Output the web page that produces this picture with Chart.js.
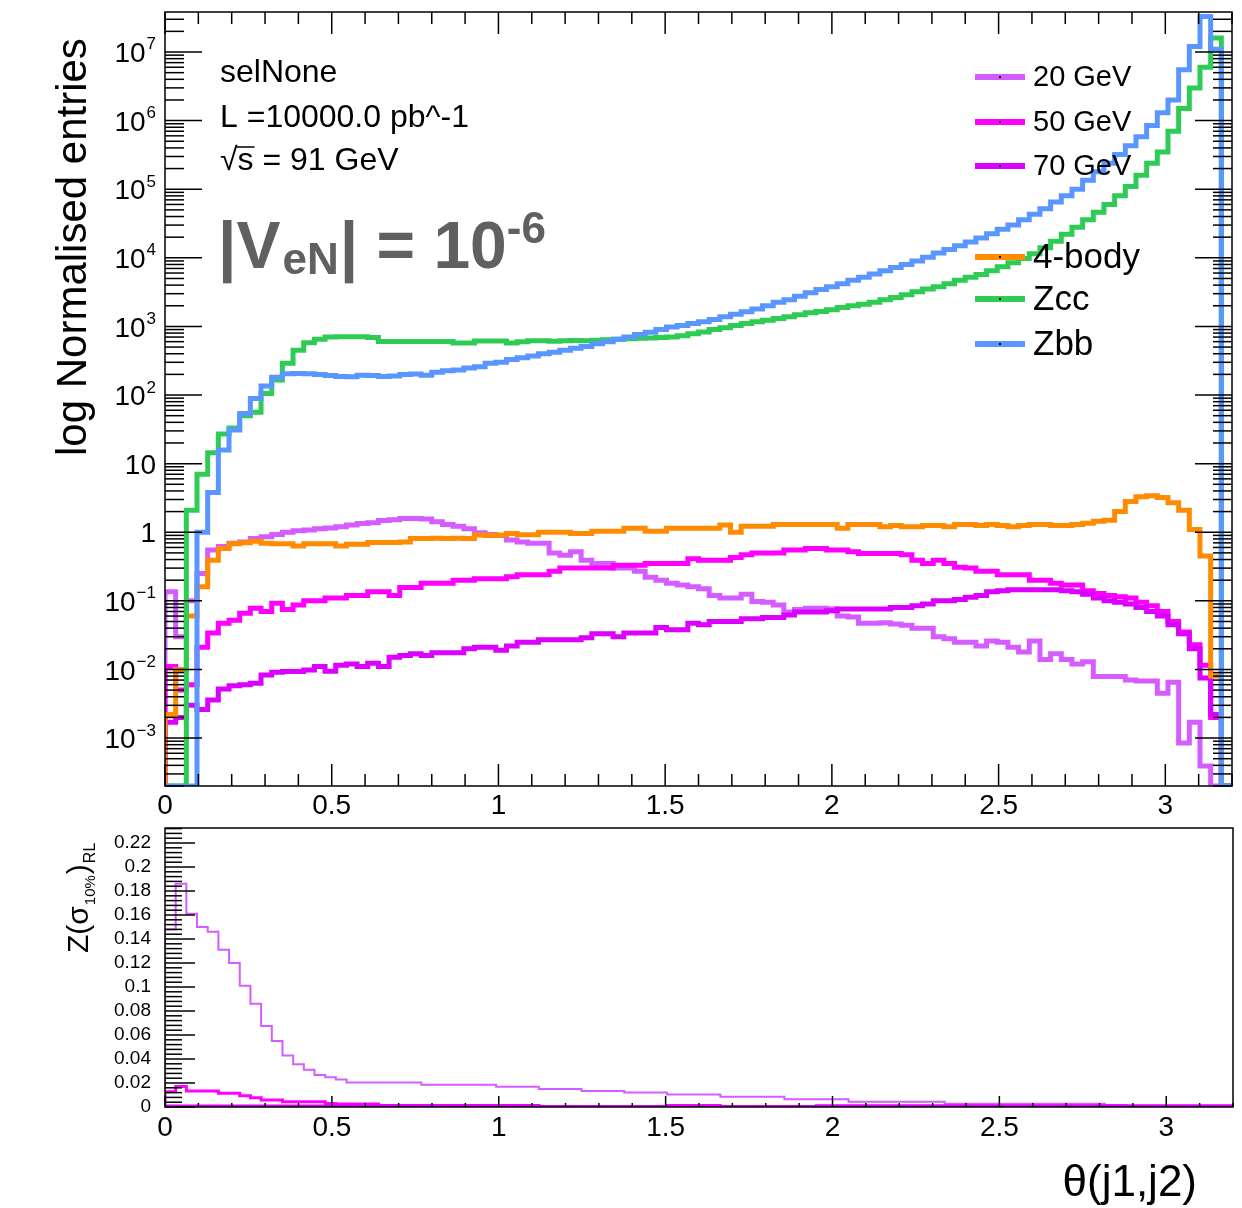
<!DOCTYPE html>
<html>
<head>
<meta charset="utf-8">
<script src="https://cdn.jsdelivr.net/npm/chart.js@4.4.1/dist/chart.umd.min.js"></script>
<style>
  html, body { margin: 0; padding: 0; background: #fff; }
  #wrap { position: relative; width: 1242px; height: 1208px; }
  canvas { position: absolute; left: 0; }
  #top { top: 0; }
  #bottom { top: 820px; }
</style>
</head>
<body>
<div id="wrap">
  <canvas id="top" width="1242" height="820"></canvas>
  <canvas id="bottom" width="1242" height="388"></canvas>
</div>
<script>
// 100 bins of theta(j1,j2) between 0 and 3.2
const N_BINS = 100;
const X_MAX = 3.2;
const BIN_W = X_MAX / N_BINS;
const X_TICK_LABELS = ['0', '0.5', '1', '1.5', '2', '2.5', '3'];

// top panel, normalised entries per bin
const sig20 = [
  0.136, 0.03, 0.1, 0.25, 0.55, 0.62, 0.69, 0.72, 0.81, 0.86,
  0.93, 1.0, 1.05, 1.08, 1.12, 1.15, 1.2, 1.28, 1.34, 1.38,
  1.48, 1.52, 1.58, 1.58, 1.56, 1.42, 1.3, 1.22, 1.12, 0.98,
  0.93, 0.9, 0.77, 0.72, 0.69, 0.69, 0.5, 0.46, 0.52, 0.39,
  0.35, 0.35, 0.3, 0.3, 0.27, 0.22, 0.2, 0.18, 0.17, 0.16,
  0.15, 0.12, 0.11, 0.11, 0.125, 0.098, 0.095, 0.087, 0.069, 0.075,
  0.078, 0.078, 0.076, 0.06, 0.058, 0.047, 0.047, 0.048, 0.046, 0.044,
  0.04, 0.04, 0.03, 0.028, 0.025, 0.025, 0.022, 0.026, 0.025, 0.021,
  0.018, 0.026, 0.014, 0.017, 0.014, 0.012, 0.013, 0.0079, 0.0079, 0.0079,
  0.007, 0.0068, 0.0068, 0.0045, 0.0065, 0.00085, 0.0017, 0.00039, 0, 0
];
const sig50 = [
  0.011, 0.005, 0.006, 0.021, 0.034, 0.047, 0.052, 0.066, 0.078, 0.07,
  0.092, 0.075, 0.087, 0.1, 0.1, 0.11, 0.11, 0.12, 0.12, 0.136,
  0.136, 0.12, 0.157, 0.157, 0.18, 0.18, 0.18, 0.2, 0.2, 0.21,
  0.21, 0.21, 0.225, 0.24, 0.24, 0.24, 0.27, 0.3, 0.3, 0.3,
  0.3, 0.3, 0.33, 0.33, 0.33, 0.35, 0.35, 0.35, 0.35, 0.41,
  0.39, 0.39, 0.39, 0.43, 0.47, 0.5, 0.5, 0.5, 0.55, 0.55,
  0.58, 0.58, 0.55, 0.55, 0.52, 0.49, 0.49, 0.49, 0.49, 0.47,
  0.39, 0.35, 0.39, 0.35, 0.31, 0.3, 0.27, 0.27, 0.24, 0.24,
  0.24, 0.2, 0.2, 0.18, 0.17, 0.17, 0.14, 0.128, 0.12, 0.115,
  0.11, 0.095, 0.085, 0.07, 0.05, 0.035, 0.023, 0.0115, 0.002, 0
];
const sig70 = [
  0.0017, 0.002, 0.003, 0.0026, 0.0036, 0.0052, 0.0058, 0.006, 0.0063, 0.0083,
  0.0091, 0.0093, 0.0093, 0.0098, 0.011, 0.0094, 0.0115, 0.012, 0.011, 0.0123,
  0.011, 0.015, 0.016, 0.017, 0.016, 0.0175, 0.0175, 0.0175, 0.02, 0.021,
  0.021, 0.019, 0.022, 0.025, 0.025, 0.027, 0.027, 0.027, 0.027, 0.029,
  0.033, 0.033, 0.03, 0.034, 0.034, 0.034, 0.041, 0.038, 0.038, 0.047,
  0.045, 0.05, 0.05, 0.05, 0.055, 0.055, 0.057, 0.057, 0.062, 0.069,
  0.069, 0.069, 0.072, 0.076, 0.076, 0.076, 0.076, 0.076, 0.08, 0.08,
  0.085, 0.09, 0.1, 0.1, 0.105, 0.113, 0.12, 0.136, 0.14, 0.145,
  0.145, 0.145, 0.145, 0.145, 0.14, 0.136, 0.125, 0.11, 0.1, 0.095,
  0.09, 0.08, 0.07, 0.06, 0.045, 0.033, 0.02, 0.0075, 0.0022, 0
];
const bkg4body = [
  0.0022, 0.01, 0.06, 0.16, 0.39, 0.58, 0.68, 0.7, 0.74, 0.69,
  0.68, 0.68, 0.63, 0.68, 0.68, 0.68, 0.63, 0.67, 0.67, 0.71,
  0.71, 0.71, 0.72, 0.81, 0.81, 0.82, 0.81, 0.82, 0.81, 0.91,
  0.9, 0.91, 0.96, 0.92, 0.92, 1.0, 1.0, 1.0, 0.96, 0.96,
  1.03, 1.03, 1.03, 1.14, 1.14, 1.03, 1.03, 1.14, 1.14, 1.14,
  1.14, 1.14, 1.27, 1.0, 1.22, 1.22, 1.22, 1.3, 1.3, 1.3,
  1.3, 1.3, 1.3, 1.14, 1.3, 1.3, 1.3, 1.2, 1.25, 1.2,
  1.2, 1.25, 1.25, 1.2, 1.3, 1.3, 1.25, 1.3, 1.25, 1.2,
  1.25, 1.3, 1.3, 1.25, 1.25, 1.3, 1.35, 1.45, 1.5, 2.0,
  2.8, 3.3, 3.4, 3.2, 2.7, 2.1, 1.1, 0.45, 0.008, 0
];
const bkgZcc = [
  0, 0, 2.1, 7.0, 14.4, 27, 33, 50, 56, 105,
  165, 290, 450, 580, 650, 700, 710, 710, 710, 690,
  605, 605, 605, 605, 605, 605, 605, 575, 575, 615,
  615, 615, 575, 600, 620, 620, 610, 620, 625, 620,
  630, 640, 650, 660, 670, 680, 690, 700, 730, 780,
  830, 900, 960, 1030, 1100, 1170, 1230, 1300, 1380, 1480,
  1580, 1650, 1750, 1880, 2000, 2100, 2250, 2450, 2650, 2900,
  3200, 3500, 3800, 4200, 4700, 5200, 5700, 6500, 7400, 8500,
  9800, 11500, 14000, 17500, 22000, 28000, 36000, 46000, 60000, 80000,
  110000, 160000, 240000, 350000, 700000, 1500000, 3000000, 6000000, 16000000, 0
];
const bkgZbb = [
  0, 0, 0, 1.0, 3.8, 15.8, 31, 54, 89, 135,
  181, 204, 206, 204, 200, 192, 186, 185, 195, 192,
  186, 190, 200, 202, 195, 215, 225, 232, 248, 258,
  290, 300, 330, 350, 370, 400, 420, 450, 480, 510,
  560, 600, 650, 700, 760, 820, 900, 980, 1030, 1100,
  1170, 1260, 1380, 1500, 1640, 1800, 2000, 2250, 2450, 2750,
  3100, 3450, 3800, 4200, 4700, 5200, 5800, 6500, 7200, 8000,
  9000, 10200, 11800, 13200, 15000, 17000, 19500, 22500, 26000, 30000,
  36000, 43000, 52000, 65000, 80000, 100000, 135000, 180000, 240000, 320000,
  430000, 580000, 850000, 1300000, 2000000, 5500000, 12000000, 33000000, 11000000, 0
];

// bottom panel, Z(sigma_10%)_RL per bin
const z20 = [
  0.148, 0.186, 0.161, 0.150, 0.146, 0.131, 0.120, 0.101, 0.086, 0.0675,
  0.055, 0.043, 0.0356, 0.031, 0.0267, 0.0247, 0.023, 0.0205, 0.0205, 0.0205,
  0.0205, 0.0205, 0.0205, 0.0205, 0.0185, 0.0185, 0.0185, 0.0185, 0.0185, 0.0185,
  0.0185, 0.0168, 0.0168, 0.0168, 0.0168, 0.015, 0.015, 0.015, 0.015, 0.0133,
  0.0133, 0.0133, 0.0133, 0.012, 0.012, 0.012, 0.012, 0.0105, 0.0105, 0.0105,
  0.0105, 0.0105, 0.0086, 0.0086, 0.0086, 0.0086, 0.0086, 0.0086, 0.0064, 0.0064,
  0.0064, 0.0064, 0.0064, 0.0064, 0.0044, 0.0044, 0.0044, 0.0044, 0.0044, 0.0044,
  0.0044, 0.0044, 0.0044, 0.0028, 0.0028, 0.0028, 0.0028, 0.0028, 0.0028, 0.0028,
  0.0028, 0.0028, 0.0028, 0.0028, 0.0028, 0.0028, 0.0028, 0.0028, 0.0017, 0.0017,
  0, 0, 0, 0, 0, 0, 0, 0, 0, 0
];
const z50 = [
  0.0128, 0.017, 0.0133, 0.0133, 0.0133, 0.0114, 0.0114, 0.0094, 0.0078, 0.0058,
  0.0058, 0.0044, 0.0044, 0.0044, 0.0044, 0.003, 0.0025, 0.0025, 0.0025, 0.0025,
  0.0012, 0.0012, 0.0012, 0.0012, 0.0012, 0.0012, 0.0012, 0.0012, 0.0012, 0.0012,
  0.0012, 0.0012, 0.0012, 0.0012, 0.0012, 0, 0, 0, 0, 0,
  0, 0, 0, 0, 0, 0, 0, 0.0012, 0.0012, 0.0012,
  0.0012, 0.0012, 0, 0, 0, 0, 0, 0, 0, 0,
  0, 0.0008, 0.0008, 0.0008, 0.0008, 0.0008, 0.0008, 0.0008, 0.0008, 0.0008,
  0.0008, 0.0008, 0.0008, 0.0008, 0.0008, 0.0008, 0.0008, 0.0008, 0.0008, 0.0008,
  0.0008, 0.0008, 0.0008, 0.0008, 0.0008, 0.0008, 0.0008, 0.0008, 0.0008, 0.0008,
  0.0008, 0.0008, 0.0008, 0.0008, 0.0008, 0.0008, 0.0008, 0.0008, 0.0008, 0.0008
];
const z70 = [
  0.0005, 0.0005, 0.0005, 0.0005, 0.0005, 0.0005, 0.0005, 0.0005, 0.0005, 0.0005,
  0.0005, 0.0005, 0.0005, 0.0005, 0.0005, 0.0005, 0.0005, 0.0005, 0.0005, 0.0005,
  0.0005, 0.0005, 0.0005, 0.0005, 0.0005, 0.0005, 0.0005, 0.0005, 0.0005, 0.0005,
  0.0005, 0.0005, 0.0005, 0.0005, 0.0005, 0, 0, 0, 0, 0,
  0, 0, 0, 0, 0, 0, 0, 0, 0, 0,
  0, 0, 0, 0, 0, 0, 0, 0, 0, 0,
  0, 0.0004, 0.0004, 0.0004, 0.0004, 0.0004, 0.0004, 0.0004, 0.0004, 0.0004,
  0.0004, 0.0004, 0.0004, 0.0004, 0.0004, 0.0004, 0.0004, 0.0004, 0.0004, 0.0004,
  0.0004, 0.0004, 0.0004, 0.0004, 0.0004, 0.0004, 0.0004, 0.0004, 0.0004, 0.0004,
  0.0004, 0.0004, 0.0004, 0.0004, 0.0004, 0.0004, 0.0004, 0.0004, 0.0004, 0.0004
];

const COL20 = '#d55cff', COL50 = '#ff00ff', COL70 = '#dc00ff';
const COL4B = '#ff8c00', COLZCC = '#2ecc54', COLZBB = '#5a96ff';
const FONT = '"Liberation Sans", Arial, Helvetica, sans-serif';

const Y_MIN = 2.0e-4, Y_MAX = 3.83e7;
const Z_MAX = 0.2325;

// ROOT draws an outline: empty bins sit on the axis floor
function histData(vals, floor) {
  const pts = [{x: 0, y: floor}];
  vals.forEach((v, i) => pts.push({x: i * BIN_W, y: Math.max(v, floor)}));
  pts.push({x: N_BINS * BIN_W, y: Math.max(vals[N_BINS - 1], floor)});
  pts.push({x: N_BINS * BIN_W, y: floor});
  return pts;
}

function histSet(label, vals, color, width, order, floor) {
  return {
    label: label,
    data: histData(vals, floor),
    borderColor: color,
    borderWidth: width,
    stepped: 'before',
    pointRadius: 0,
    fill: false,
    borderJoinStyle: 'miter',
    order: order
  };
}

function line(ctx, x1, y1, x2, y2) {
  ctx.beginPath(); ctx.moveTo(x1, y1); ctx.lineTo(x2, y2); ctx.stroke();
}

// "10" with a superscript, right aligned
function powLabel(ctx, base, sup, xRight, yMid, size) {
  ctx.font = size + 'px ' + FONT;
  const wb = ctx.measureText(base).width;
  const small = Math.round(size * 0.62);
  ctx.font = small + 'px ' + FONT;
  const ws = sup ? ctx.measureText(sup).width + 1 : 0;
  const x = xRight - wb - ws;
  const base_y = yMid + size * 0.36;
  ctx.textAlign = 'left';
  ctx.textBaseline = 'alphabetic';
  ctx.font = size + 'px ' + FONT;
  ctx.fillText(base, x, base_y);
  if (sup) {
    ctx.font = small + 'px ' + FONT;
    ctx.fillText(sup, x + wb + 1, base_y - size * 0.45);
  }
}

const topDecor = {
  id: 'topDecor',
  afterDatasetsDraw(chart) {
    const ctx = chart.ctx;
    const a = chart.chartArea;
    const xs = chart.scales.x, ys = chart.scales.y;
    ctx.save();
    ctx.strokeStyle = '#000';
    ctx.fillStyle = '#000';
    ctx.lineWidth = 1.5;
    ctx.strokeRect(a.left, a.top, a.right - a.left, a.bottom - a.top);

    // x ticks, bottom and top
    for (let k = 0; k <= 32; k++) {
      const v = k / 10;
      const px = xs.getPixelForValue(v);
      const len = (k % 5 === 0) ? 22 : 12;
      line(ctx, px, a.bottom, px, a.bottom - len);
      line(ctx, px, a.top, px, a.top + len);
    }
    // log y ticks, left and right
    for (let e = -4; e <= 7; e++) {
      for (let m = 1; m <= 9; m++) {
        const v = m * Math.pow(10, e);
        if (v < Y_MIN || v > Y_MAX) continue;
        const py = ys.getPixelForValue(v);
        const len = (m === 1) ? 37 : 19;
        line(ctx, a.left, py, a.left + len, py);
        line(ctx, a.right, py, a.right - len, py);
      }
    }
    // x labels
    ctx.font = '28px ' + FONT;
    ctx.textAlign = 'center';
    ctx.textBaseline = 'middle';
    X_TICK_LABELS.forEach(t => {
      ctx.fillText(t, xs.getPixelForValue(parseFloat(t)), a.bottom + 20);
    });
    // y labels
    for (let e = -3; e <= 7; e++) {
      const py = ys.getPixelForValue(Math.pow(10, e));
      if (e === 0) powLabel(ctx, '1', '', 156, py, 28);
      else if (e === 1) powLabel(ctx, '10', '', 156, py, 28);
      else powLabel(ctx, '10', (e < 0 ? '\u2212' : '') + Math.abs(e), 156, py, 28);
    }
    // y title
    ctx.save();
    ctx.translate(86, 456);
    ctx.rotate(-Math.PI / 2);
    ctx.font = '42px ' + FONT;
    ctx.textAlign = 'left';
    ctx.textBaseline = 'alphabetic';
    ctx.fillText('log Normalised entries', 0, 0);
    ctx.restore();

    // info text
    ctx.textAlign = 'left';
    ctx.textBaseline = 'alphabetic';
    ctx.font = '32px ' + FONT;
    ctx.fillText('selNone', 220, 82);
    ctx.fillText('L =10000.0 pb^-1', 220, 127);
    const wRoot = ctx.measureText('\u221A').width;
    ctx.fillText('\u221A', 220, 170);
    ctx.fillText('s = 91 GeV', 220 + wRoot, 170);
    const wS = ctx.measureText('s').width;
    ctx.lineWidth = 1.5;
    line(ctx, 220 + wRoot - 2, 147, 220 + wRoot + wS + 1, 147);

    // |V_eN| = 10^-6
    ctx.fillStyle = '#606060';
    let x = 218;
    const by = 268;
    ctx.font = 'bold 66px ' + FONT;
    ctx.fillText('|V', x, by);
    x += ctx.measureText('|V').width + 2;
    ctx.font = 'bold 44px ' + FONT;
    ctx.fillText('eN', x, by + 6);
    x += ctx.measureText('eN').width + 1;
    ctx.font = 'bold 66px ' + FONT;
    ctx.fillText('| = 10', x, by);
    x += ctx.measureText('| = 10').width;
    ctx.font = 'bold 44px ' + FONT;
    ctx.fillText('-6', x, by - 25);

    // legend
    const entries = [
      ['20 GeV', COL20, 77, 29], ['50 GeV', COL50, 122, 29], ['70 GeV', COL70, 166, 29],
      ['4-body', COL4B, 257, 35], ['Zcc', COLZCC, 299, 35], ['Zbb', COLZBB, 344, 35]
    ];
    entries.forEach(([txt, col, y, fs]) => {
      ctx.strokeStyle = col;
      ctx.lineWidth = 6;
      line(ctx, 975, y, 1025, y);
      ctx.fillStyle = '#000';
      ctx.fillRect(999, y - 1, 2, 2);
      ctx.font = fs + 'px ' + FONT;
      ctx.textBaseline = 'middle';
      ctx.fillText(txt, 1033, y + 1);
    });
    ctx.restore();
  }
};

const bottomDecor = {
  id: 'bottomDecor',
  afterDatasetsDraw(chart) {
    const ctx = chart.ctx;
    const a = chart.chartArea;
    const xs = chart.scales.x, ys = chart.scales.y;
    ctx.save();
    ctx.strokeStyle = '#000';
    ctx.fillStyle = '#000';
    ctx.lineWidth = 1.5;
    ctx.strokeRect(a.left, a.top, a.right - a.left, a.bottom - a.top);

    for (let k = 0; k <= 32; k++) {
      const px = xs.getPixelForValue(k / 10);
      const len = (k % 5 === 0) ? 11 : 4;
      line(ctx, px, a.bottom, px, a.bottom - len);
    }
    for (let k = 0; k <= 58; k++) {
      const v = k * 0.004;
      if (v > Z_MAX) break;
      const py = ys.getPixelForValue(v);
      const len = (k % 5 === 0) ? 30 : 17;
      line(ctx, a.left, py, a.left + len, py);
    }
    ctx.font = '28px ' + FONT;
    ctx.textAlign = 'center';
    ctx.textBaseline = 'middle';
    X_TICK_LABELS.forEach(t => {
      ctx.fillText(t, xs.getPixelForValue(parseFloat(t)), a.bottom + 21);
    });
    ctx.font = '19px ' + FONT;
    ctx.textAlign = 'right';
    for (let k = 0; k <= 11; k++) {
      const v = k * 0.02;
      const t = k === 0 ? '0' : (k === 5 ? '0.1' : (k === 10 ? '0.2' : v.toFixed(2)));
      ctx.fillText(t, 151, ys.getPixelForValue(v));
    }

    // y title Z(sigma_10%)_RL
    ctx.save();
    ctx.translate(88, 133);
    ctx.rotate(-Math.PI / 2);
    ctx.textAlign = 'left';
    ctx.textBaseline = 'alphabetic';
    let x = 0;
    ctx.font = '30px ' + FONT;
    ctx.fillText('Z(\u03C3', x, 0);
    x += ctx.measureText('Z(\u03C3').width + 1;
    ctx.font = '15px ' + FONT;
    ctx.fillText('10%', x, 7);
    x += ctx.measureText('10%').width + 1;
    ctx.font = '30px ' + FONT;
    ctx.fillText(')', x, 0);
    x += ctx.measureText(')').width + 1;
    ctx.font = '16px ' + FONT;
    ctx.fillText('RL', x, 7);
    ctx.restore();

    // x title
    ctx.font = '44px ' + FONT;
    ctx.textAlign = 'right';
    ctx.textBaseline = 'alphabetic';
    ctx.fillText('\u03B8(j1,j2)', 1197, 1196 - 820);
    ctx.restore();
  }
};

new Chart(document.getElementById('top'), {
  type: 'line',
  data: {
    datasets: [
      histSet('20 GeV', sig20, COL20, 5, 5, Y_MIN),
      histSet('50 GeV', sig50, COL50, 5, 4, Y_MIN),
      histSet('70 GeV', sig70, COL70, 5, 3, Y_MIN),
      histSet('4-body', bkg4body, COL4B, 5, 2, Y_MIN),
      histSet('Zcc', bkgZcc, COLZCC, 5, 1, Y_MIN),
      histSet('Zbb', bkgZbb, COLZBB, 5, 0, Y_MIN)
    ]
  },
  options: {
    responsive: false,
    animation: false,
    devicePixelRatio: 1,
    layout: { padding: { left: 165, top: 12, right: 10, bottom: 34 } },
    plugins: { legend: { display: false }, tooltip: { enabled: false } },
    scales: {
      x: { type: 'linear', min: 0, max: X_MAX, display: false },
      y: { type: 'logarithmic', min: Y_MIN, max: Y_MAX, display: false }
    }
  },
  plugins: [topDecor]
});

new Chart(document.getElementById('bottom'), {
  type: 'line',
  data: {
    datasets: [
      histSet('20 GeV', z20, COL20, 2, 2, 0),
      histSet('50 GeV', z50, COL50, 3, 1, 0),
      histSet('70 GeV', z70, COL70, 4, 0, 0)
    ]
  },
  options: {
    responsive: false,
    animation: false,
    devicePixelRatio: 1,
    layout: { padding: { left: 165, top: 8, right: 9, bottom: 101 } },
    plugins: { legend: { display: false }, tooltip: { enabled: false } },
    scales: {
      x: { type: 'linear', min: 0, max: X_MAX, display: false },
      y: { type: 'linear', min: 0, max: Z_MAX, display: false }
    }
  },
  plugins: [bottomDecor]
});
</script>
</body>
</html>
